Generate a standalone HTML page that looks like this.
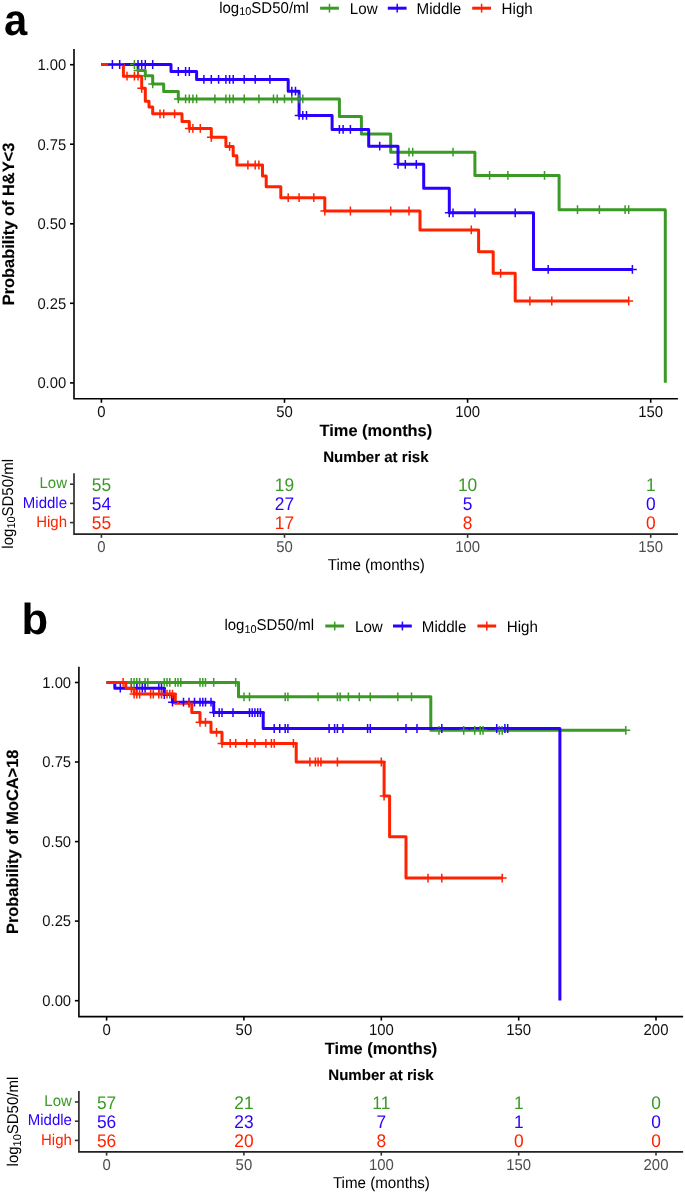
<!DOCTYPE html>
<html lang="en"><head><meta charset="utf-8"><title>Kaplan-Meier curves</title>
<style>html,body{margin:0;padding:0;background:#fff}svg{display:block}</style></head>
<body>
<svg width="685" height="1192" viewBox="0 0 685 1192" font-family="'Liberation Sans', Arial, Helvetica, sans-serif" text-rendering="geometricPrecision">
<rect width="685" height="1192" fill="#fff"/>
<g transform="translate(0,0.0)">
<text transform="translate(219.2,12.5) scale(1,1.04)" font-size="15.0" text-anchor="start" font-weight="normal" fill="#000">log<tspan font-size="10.9" dy="2.4">10</tspan><tspan dy="-2.4">SD50/ml</tspan></text>
<path d="M320.1,8.2h18.8" stroke="#3A9A25" stroke-width="3.0" fill="none"/>
<path d="M329.5,3.8v8.8" stroke="#3A9A25" stroke-width="1.5" fill="none"/>
<text transform="translate(349.8,13.7) scale(1,1.04)" font-size="15.15" text-anchor="start" font-weight="normal" fill="#000">Low</text>
<path d="M387.8,8.2h18.8" stroke="#2A00FF" stroke-width="3.0" fill="none"/>
<path d="M397.2,3.8v8.8" stroke="#2A00FF" stroke-width="1.5" fill="none"/>
<text transform="translate(416.6,13.7) scale(1,1.04)" font-size="15.15" text-anchor="start" font-weight="normal" fill="#000">Middle</text>
<path d="M472.2,8.2h18.8" stroke="#FF2200" stroke-width="3.0" fill="none"/>
<path d="M481.6,3.8v8.8" stroke="#FF2200" stroke-width="1.5" fill="none"/>
<text transform="translate(501.6,13.7) scale(1,1.04)" font-size="15.15" text-anchor="start" font-weight="normal" fill="#000">High</text>
<path d="M74.0,49.0V398.8H677.9" fill="none" stroke="#000000" stroke-width="1.6" stroke-linejoin="miter"/>
<path d="M70.0,64.7H74.0" stroke="#000000" stroke-width="1.6"/>
<text transform="translate(66.2,70.0) scale(1,1.05)" font-size="14.8" text-anchor="end" font-weight="normal" fill="#111">1.00</text>
<path d="M70.0,144.2H74.0" stroke="#000000" stroke-width="1.6"/>
<text transform="translate(66.2,149.6) scale(1,1.05)" font-size="14.8" text-anchor="end" font-weight="normal" fill="#111">0.75</text>
<path d="M70.0,223.8H74.0" stroke="#000000" stroke-width="1.6"/>
<text transform="translate(66.2,229.1) scale(1,1.05)" font-size="14.8" text-anchor="end" font-weight="normal" fill="#111">0.50</text>
<path d="M70.0,303.3H74.0" stroke="#000000" stroke-width="1.6"/>
<text transform="translate(66.2,308.6) scale(1,1.05)" font-size="14.8" text-anchor="end" font-weight="normal" fill="#111">0.25</text>
<path d="M70.0,382.9H74.0" stroke="#000000" stroke-width="1.6"/>
<text transform="translate(66.2,388.2) scale(1,1.05)" font-size="14.8" text-anchor="end" font-weight="normal" fill="#111">0.00</text>
<path d="M101.4,398.8V402.8" stroke="#000000" stroke-width="1.6"/>
<text transform="translate(101.4,417.1) scale(1,1.05)" font-size="14.9" text-anchor="middle" font-weight="normal" fill="#111">0</text>
<path d="M284.5,398.8V402.8" stroke="#000000" stroke-width="1.6"/>
<text transform="translate(284.5,417.1) scale(1,1.05)" font-size="14.9" text-anchor="middle" font-weight="normal" fill="#111">50</text>
<path d="M467.6,398.8V402.8" stroke="#000000" stroke-width="1.6"/>
<text transform="translate(467.6,417.1) scale(1,1.05)" font-size="14.9" text-anchor="middle" font-weight="normal" fill="#111">100</text>
<path d="M650.7,398.8V402.8" stroke="#000000" stroke-width="1.6"/>
<text transform="translate(650.7,417.1) scale(1,1.05)" font-size="14.9" text-anchor="middle" font-weight="normal" fill="#111">150</text>
<text x="375.9" y="436.2" font-size="16.4" text-anchor="middle" font-weight="bold" fill="#000" stroke="#000" stroke-width="0.1">Time (months)</text>
<text x="375.9" y="461.9" font-size="15.05" text-anchor="middle" font-weight="bold" fill="#000" stroke="#000" stroke-width="0.1">Number at risk</text>
<text transform="translate(13.5,224) rotate(-90)" font-size="16.4" font-weight="bold" text-anchor="middle" fill="#000" stroke="#000" stroke-width="0.15">Probability of H&amp;Y&lt;3</text>
<path d="M74.0,473.2V534.1H677.9" fill="none" stroke="#222" stroke-width="1.6" stroke-linejoin="miter"/>
<path d="M70.0,484.2H74.0" stroke="#333" stroke-width="1.6"/>
<text transform="translate(67.0,488.4) scale(1,1.04)" font-size="15.0" text-anchor="end" font-weight="normal" fill="#3A9A25">Low</text>
<text transform="translate(101.4,490.9) scale(1,1.06)" font-size="17.33" text-anchor="middle" font-weight="normal" fill="#3A9A25">55</text>
<text transform="translate(284.5,490.9) scale(1,1.06)" font-size="17.33" text-anchor="middle" font-weight="normal" fill="#3A9A25">19</text>
<text transform="translate(467.6,490.9) scale(1,1.06)" font-size="17.33" text-anchor="middle" font-weight="normal" fill="#3A9A25">10</text>
<text transform="translate(650.7,490.9) scale(1,1.06)" font-size="17.33" text-anchor="middle" font-weight="normal" fill="#3A9A25">1</text>
<path d="M70.0,503.4H74.0" stroke="#333" stroke-width="1.6"/>
<text transform="translate(67.0,507.6) scale(1,1.04)" font-size="15.0" text-anchor="end" font-weight="normal" fill="#2A00FF">Middle</text>
<text transform="translate(101.4,510.1) scale(1,1.06)" font-size="17.33" text-anchor="middle" font-weight="normal" fill="#2A00FF">54</text>
<text transform="translate(284.5,510.1) scale(1,1.06)" font-size="17.33" text-anchor="middle" font-weight="normal" fill="#2A00FF">27</text>
<text transform="translate(467.6,510.1) scale(1,1.06)" font-size="17.33" text-anchor="middle" font-weight="normal" fill="#2A00FF">5</text>
<text transform="translate(650.7,510.1) scale(1,1.06)" font-size="17.33" text-anchor="middle" font-weight="normal" fill="#2A00FF">0</text>
<path d="M70.0,522.6H74.0" stroke="#333" stroke-width="1.6"/>
<text transform="translate(67.0,526.8) scale(1,1.04)" font-size="15.0" text-anchor="end" font-weight="normal" fill="#FF2200">High</text>
<text transform="translate(101.4,529.3) scale(1,1.06)" font-size="17.33" text-anchor="middle" font-weight="normal" fill="#FF2200">55</text>
<text transform="translate(284.5,529.3) scale(1,1.06)" font-size="17.33" text-anchor="middle" font-weight="normal" fill="#FF2200">17</text>
<text transform="translate(467.6,529.3) scale(1,1.06)" font-size="17.33" text-anchor="middle" font-weight="normal" fill="#FF2200">8</text>
<text transform="translate(650.7,529.3) scale(1,1.06)" font-size="17.33" text-anchor="middle" font-weight="normal" fill="#FF2200">0</text>
<path d="M101.4,534.1V537.8" stroke="#333" stroke-width="1.6"/>
<text transform="translate(101.4,552.2) scale(1,1.05)" font-size="14.9" text-anchor="middle" font-weight="normal" fill="#4d4d4d">0</text>
<path d="M284.5,534.1V537.8" stroke="#333" stroke-width="1.6"/>
<text transform="translate(284.5,552.2) scale(1,1.05)" font-size="14.9" text-anchor="middle" font-weight="normal" fill="#4d4d4d">50</text>
<path d="M467.6,534.1V537.8" stroke="#333" stroke-width="1.6"/>
<text transform="translate(467.6,552.2) scale(1,1.05)" font-size="14.9" text-anchor="middle" font-weight="normal" fill="#4d4d4d">100</text>
<path d="M650.7,534.1V537.8" stroke="#333" stroke-width="1.6"/>
<text transform="translate(650.7,552.2) scale(1,1.05)" font-size="14.9" text-anchor="middle" font-weight="normal" fill="#4d4d4d">150</text>
<text transform="translate(376.3,569.9) scale(1,1.04)" font-size="15.15" text-anchor="middle" font-weight="normal" fill="#000">Time (months)</text>
<text transform="translate(12.8,503.8) rotate(-90) scale(1,1.04)" font-size="15.0" text-anchor="middle" fill="#000">log<tspan font-size="10.9" dy="2.4">10</tspan><tspan dy="-2.4">SD50/ml</tspan></text>
</g>
<text transform="translate(4.0,34.7) scale(0.95,1)" font-size="44" font-weight="bold" fill="#000">a</text>
<path d="M101.4,64.5H138.0V70.6H145.3V75.8H152.7V83.9H163.7V91.5H178.3V98.9H339.4V116.6H361.4V134.1H390.7V152.2H474.9V175.4H559.1V209.7H665.3V382.8" fill="none" stroke="#3A9A25" stroke-width="3.0" stroke-linejoin="round" stroke-linecap="butt"/>
<path d="M101.4,64.5H171.0V71.5H196.6V79.4H288.2V91.2H299.1V115.4H332.1V129.4H368.7V146.2H398.0V164.3H423.7V188.2H449.3V212.8H533.5V269.4H632.4" fill="none" stroke="#2A00FF" stroke-width="3.0" stroke-linejoin="round" stroke-linecap="butt"/>
<path d="M101.4,64.5H123.4V76.2H141.7V88.3H145.3V101.2H149.0V107.0H152.7V113.8H182.0V121.4H189.3V128.4H211.3V137.3H225.9V146.4H233.2V155.7H236.9V165.0H262.5V175.9H266.2V186.8H280.8V197.7H324.8V211.0H420.0V229.9H478.6V251.7H493.2V273.3H515.2V301.0H628.7" fill="none" stroke="#FF2200" stroke-width="3.0" stroke-linejoin="round" stroke-linecap="butt"/>
<path d="M130.0,64.5h8.8M134.4,60.1v8.8M133.6,70.6h8.8M138.0,66.2v8.8M140.9,75.8h8.8M145.3,71.4v8.8M148.3,83.9h8.8M152.7,79.5v8.8M173.9,98.9h8.8M178.3,94.5v8.8M181.2,98.9h8.8M185.6,94.5v8.8M184.9,98.9h8.8M189.3,94.5v8.8M188.5,98.9h8.8M192.9,94.5v8.8M192.2,98.9h8.8M196.6,94.5v8.8M210.5,98.9h8.8M214.9,94.5v8.8M221.5,98.9h8.8M225.9,94.5v8.8M225.2,98.9h8.8M229.6,94.5v8.8M228.8,98.9h8.8M233.2,94.5v8.8M239.8,98.9h8.8M244.2,94.5v8.8M254.5,98.9h8.8M258.9,94.5v8.8M269.1,98.9h8.8M273.5,94.5v8.8M272.8,98.9h8.8M277.2,94.5v8.8M280.1,98.9h8.8M284.5,94.5v8.8M287.4,98.9h8.8M291.8,94.5v8.8M294.7,98.9h8.8M299.1,94.5v8.8M298.4,98.9h8.8M302.8,94.5v8.8M404.6,152.2h8.8M409.0,147.8v8.8M408.3,152.2h8.8M412.7,147.8v8.8M448.6,152.2h8.8M453.0,147.8v8.8M485.2,175.4h8.8M489.6,171.0v8.8M503.5,175.4h8.8M507.9,171.0v8.8M540.1,175.4h8.8M544.5,171.0v8.8M573.1,209.7h8.8M577.5,205.3v8.8M595.0,209.7h8.8M599.4,205.3v8.8M620.7,209.7h8.8M625.1,205.3v8.8M624.3,209.7h8.8M628.7,205.3v8.8" fill="none" stroke="#3A9A25" stroke-width="1.5"/>
<path d="M108.0,64.5h8.8M112.4,60.1v8.8M115.3,64.5h8.8M119.7,60.1v8.8M133.6,64.5h8.8M138.0,60.1v8.8M137.3,64.5h8.8M141.7,60.1v8.8M140.9,64.5h8.8M145.3,60.1v8.8M148.3,64.5h8.8M152.7,60.1v8.8M173.9,71.5h8.8M178.3,67.1v8.8M181.2,71.5h8.8M185.6,67.1v8.8M184.9,71.5h8.8M189.3,67.1v8.8M199.5,79.4h8.8M203.9,75.0v8.8M206.9,79.4h8.8M211.3,75.0v8.8M214.2,79.4h8.8M218.6,75.0v8.8M221.5,79.4h8.8M225.9,75.0v8.8M225.2,79.4h8.8M229.6,75.0v8.8M228.8,79.4h8.8M233.2,75.0v8.8M239.8,79.4h8.8M244.2,75.0v8.8M250.8,79.4h8.8M255.2,75.0v8.8M265.5,79.4h8.8M269.9,75.0v8.8M287.4,91.2h8.8M291.8,86.8v8.8M291.1,91.2h8.8M295.5,86.8v8.8M294.7,115.4h8.8M299.1,111.0v8.8M298.4,115.4h8.8M302.8,111.0v8.8M302.1,115.4h8.8M306.5,111.0v8.8M335.0,129.4h8.8M339.4,125.0v8.8M338.7,129.4h8.8M343.1,125.0v8.8M346.0,129.4h8.8M350.4,125.0v8.8M375.3,146.2h8.8M379.7,141.8v8.8M393.6,164.3h8.8M398.0,159.9v8.8M400.9,164.3h8.8M405.3,159.9v8.8M411.9,164.3h8.8M416.3,159.9v8.8M444.9,212.8h8.8M449.3,208.4v8.8M448.6,212.8h8.8M453.0,208.4v8.8M470.5,212.8h8.8M474.9,208.4v8.8M510.8,212.8h8.8M515.2,208.4v8.8M543.8,269.4h8.8M548.2,265.0v8.8M628.0,269.4h8.8M632.4,265.0v8.8" fill="none" stroke="#2A00FF" stroke-width="1.5"/>
<path d="M122.6,76.2h8.8M127.0,71.8v8.8M130.0,76.2h8.8M134.4,71.8v8.8M133.6,76.2h8.8M138.0,71.8v8.8M137.3,88.3h8.8M141.7,83.9v8.8M155.6,113.8h8.8M160.0,109.4v8.8M159.3,113.8h8.8M163.7,109.4v8.8M170.2,113.8h8.8M174.6,109.4v8.8M184.9,128.4h8.8M189.3,124.0v8.8M188.5,128.4h8.8M192.9,124.0v8.8M195.9,128.4h8.8M200.3,124.0v8.8M206.9,137.3h8.8M211.3,132.9v8.8M225.2,146.4h8.8M229.6,142.0v8.8M243.5,165.0h8.8M247.9,160.6v8.8M250.8,165.0h8.8M255.2,160.6v8.8M254.5,165.0h8.8M258.9,160.6v8.8M283.8,197.7h8.8M288.2,193.3v8.8M294.7,197.7h8.8M299.1,193.3v8.8M309.4,197.7h8.8M313.8,193.3v8.8M320.4,211.0h8.8M324.8,206.6v8.8M346.0,211.0h8.8M350.4,206.6v8.8M386.3,211.0h8.8M390.7,206.6v8.8M404.6,211.0h8.8M409.0,206.6v8.8M466.9,229.9h8.8M471.3,225.5v8.8M496.2,273.3h8.8M500.6,268.9v8.8M525.5,301.0h8.8M529.9,296.6v8.8M547.4,301.0h8.8M551.8,296.6v8.8M624.3,301.0h8.8M628.7,296.6v8.8" fill="none" stroke="#FF2200" stroke-width="1.5"/>
<g transform="translate(0,617.8)">
<text transform="translate(224.4,12.5) scale(1,1.04)" font-size="15.0" text-anchor="start" font-weight="normal" fill="#000">log<tspan font-size="10.9" dy="2.4">10</tspan><tspan dy="-2.4">SD50/ml</tspan></text>
<path d="M325.3,8.2h18.8" stroke="#3A9A25" stroke-width="3.0" fill="none"/>
<path d="M334.7,3.8v8.8" stroke="#3A9A25" stroke-width="1.5" fill="none"/>
<text transform="translate(355.0,13.7) scale(1,1.04)" font-size="15.15" text-anchor="start" font-weight="normal" fill="#000">Low</text>
<path d="M393.0,8.2h18.8" stroke="#2A00FF" stroke-width="3.0" fill="none"/>
<path d="M402.4,3.8v8.8" stroke="#2A00FF" stroke-width="1.5" fill="none"/>
<text transform="translate(421.8,13.7) scale(1,1.04)" font-size="15.15" text-anchor="start" font-weight="normal" fill="#000">Middle</text>
<path d="M477.4,8.2h18.8" stroke="#FF2200" stroke-width="3.0" fill="none"/>
<path d="M486.8,3.8v8.8" stroke="#FF2200" stroke-width="1.5" fill="none"/>
<text transform="translate(506.8,13.7) scale(1,1.04)" font-size="15.15" text-anchor="start" font-weight="normal" fill="#000">High</text>
<path d="M78.9,49.0V398.8H683.1" fill="none" stroke="#000000" stroke-width="1.6" stroke-linejoin="miter"/>
<path d="M74.9,64.7H78.9" stroke="#000000" stroke-width="1.6"/>
<text transform="translate(71.1,70.0) scale(1,1.05)" font-size="14.8" text-anchor="end" font-weight="normal" fill="#111">1.00</text>
<path d="M74.9,144.2H78.9" stroke="#000000" stroke-width="1.6"/>
<text transform="translate(71.1,149.6) scale(1,1.05)" font-size="14.8" text-anchor="end" font-weight="normal" fill="#111">0.75</text>
<path d="M74.9,223.8H78.9" stroke="#000000" stroke-width="1.6"/>
<text transform="translate(71.1,229.1) scale(1,1.05)" font-size="14.8" text-anchor="end" font-weight="normal" fill="#111">0.50</text>
<path d="M74.9,303.3H78.9" stroke="#000000" stroke-width="1.6"/>
<text transform="translate(71.1,308.6) scale(1,1.05)" font-size="14.8" text-anchor="end" font-weight="normal" fill="#111">0.25</text>
<path d="M74.9,382.9H78.9" stroke="#000000" stroke-width="1.6"/>
<text transform="translate(71.1,388.2) scale(1,1.05)" font-size="14.8" text-anchor="end" font-weight="normal" fill="#111">0.00</text>
<path d="M106.6,398.8V402.8" stroke="#000000" stroke-width="1.6"/>
<text transform="translate(106.6,417.1) scale(1,1.05)" font-size="14.9" text-anchor="middle" font-weight="normal" fill="#111">0</text>
<path d="M243.9,398.8V402.8" stroke="#000000" stroke-width="1.6"/>
<text transform="translate(243.9,417.1) scale(1,1.05)" font-size="14.9" text-anchor="middle" font-weight="normal" fill="#111">50</text>
<path d="M381.3,398.8V402.8" stroke="#000000" stroke-width="1.6"/>
<text transform="translate(381.3,417.1) scale(1,1.05)" font-size="14.9" text-anchor="middle" font-weight="normal" fill="#111">100</text>
<path d="M518.7,398.8V402.8" stroke="#000000" stroke-width="1.6"/>
<text transform="translate(518.7,417.1) scale(1,1.05)" font-size="14.9" text-anchor="middle" font-weight="normal" fill="#111">150</text>
<path d="M656.0,398.8V402.8" stroke="#000000" stroke-width="1.6"/>
<text transform="translate(656.0,417.1) scale(1,1.05)" font-size="14.9" text-anchor="middle" font-weight="normal" fill="#111">200</text>
<text x="381.0" y="436.2" font-size="16.4" text-anchor="middle" font-weight="bold" fill="#000" stroke="#000" stroke-width="0.1">Time (months)</text>
<text x="381.0" y="461.9" font-size="15.05" text-anchor="middle" font-weight="bold" fill="#000" stroke="#000" stroke-width="0.1">Number at risk</text>
<text transform="translate(17.9,224) rotate(-90)" font-size="16.4" font-weight="bold" text-anchor="middle" fill="#000" stroke="#000" stroke-width="0.15">Probability of MoCA&gt;18</text>
<path d="M78.9,473.2V534.1H683.1" fill="none" stroke="#222" stroke-width="1.6" stroke-linejoin="miter"/>
<path d="M74.9,484.2H78.9" stroke="#333" stroke-width="1.6"/>
<text transform="translate(71.9,488.4) scale(1,1.04)" font-size="15.0" text-anchor="end" font-weight="normal" fill="#3A9A25">Low</text>
<text transform="translate(106.6,490.9) scale(1,1.06)" font-size="17.33" text-anchor="middle" font-weight="normal" fill="#3A9A25">57</text>
<text transform="translate(243.9,490.9) scale(1,1.06)" font-size="17.33" text-anchor="middle" font-weight="normal" fill="#3A9A25">21</text>
<text transform="translate(381.3,490.9) scale(1,1.06)" font-size="17.33" text-anchor="middle" font-weight="normal" fill="#3A9A25">11</text>
<text transform="translate(518.7,490.9) scale(1,1.06)" font-size="17.33" text-anchor="middle" font-weight="normal" fill="#3A9A25">1</text>
<text transform="translate(656.0,490.9) scale(1,1.06)" font-size="17.33" text-anchor="middle" font-weight="normal" fill="#3A9A25">0</text>
<path d="M74.9,503.4H78.9" stroke="#333" stroke-width="1.6"/>
<text transform="translate(71.9,507.6) scale(1,1.04)" font-size="15.0" text-anchor="end" font-weight="normal" fill="#2A00FF">Middle</text>
<text transform="translate(106.6,510.1) scale(1,1.06)" font-size="17.33" text-anchor="middle" font-weight="normal" fill="#2A00FF">56</text>
<text transform="translate(243.9,510.1) scale(1,1.06)" font-size="17.33" text-anchor="middle" font-weight="normal" fill="#2A00FF">23</text>
<text transform="translate(381.3,510.1) scale(1,1.06)" font-size="17.33" text-anchor="middle" font-weight="normal" fill="#2A00FF">7</text>
<text transform="translate(518.7,510.1) scale(1,1.06)" font-size="17.33" text-anchor="middle" font-weight="normal" fill="#2A00FF">1</text>
<text transform="translate(656.0,510.1) scale(1,1.06)" font-size="17.33" text-anchor="middle" font-weight="normal" fill="#2A00FF">0</text>
<path d="M74.9,522.6H78.9" stroke="#333" stroke-width="1.6"/>
<text transform="translate(71.9,526.8) scale(1,1.04)" font-size="15.0" text-anchor="end" font-weight="normal" fill="#FF2200">High</text>
<text transform="translate(106.6,529.3) scale(1,1.06)" font-size="17.33" text-anchor="middle" font-weight="normal" fill="#FF2200">56</text>
<text transform="translate(243.9,529.3) scale(1,1.06)" font-size="17.33" text-anchor="middle" font-weight="normal" fill="#FF2200">20</text>
<text transform="translate(381.3,529.3) scale(1,1.06)" font-size="17.33" text-anchor="middle" font-weight="normal" fill="#FF2200">8</text>
<text transform="translate(518.7,529.3) scale(1,1.06)" font-size="17.33" text-anchor="middle" font-weight="normal" fill="#FF2200">0</text>
<text transform="translate(656.0,529.3) scale(1,1.06)" font-size="17.33" text-anchor="middle" font-weight="normal" fill="#FF2200">0</text>
<path d="M106.6,534.1V537.8" stroke="#333" stroke-width="1.6"/>
<text transform="translate(106.6,552.2) scale(1,1.05)" font-size="14.9" text-anchor="middle" font-weight="normal" fill="#4d4d4d">0</text>
<path d="M243.9,534.1V537.8" stroke="#333" stroke-width="1.6"/>
<text transform="translate(243.9,552.2) scale(1,1.05)" font-size="14.9" text-anchor="middle" font-weight="normal" fill="#4d4d4d">50</text>
<path d="M381.3,534.1V537.8" stroke="#333" stroke-width="1.6"/>
<text transform="translate(381.3,552.2) scale(1,1.05)" font-size="14.9" text-anchor="middle" font-weight="normal" fill="#4d4d4d">100</text>
<path d="M518.7,534.1V537.8" stroke="#333" stroke-width="1.6"/>
<text transform="translate(518.7,552.2) scale(1,1.05)" font-size="14.9" text-anchor="middle" font-weight="normal" fill="#4d4d4d">150</text>
<path d="M656.0,534.1V537.8" stroke="#333" stroke-width="1.6"/>
<text transform="translate(656.0,552.2) scale(1,1.05)" font-size="14.9" text-anchor="middle" font-weight="normal" fill="#4d4d4d">200</text>
<text transform="translate(381.4,569.9) scale(1,1.04)" font-size="15.15" text-anchor="middle" font-weight="normal" fill="#000">Time (months)</text>
<text transform="translate(18.0,503.8) rotate(-90) scale(1,1.04)" font-size="15.0" text-anchor="middle" fill="#000">log<tspan font-size="10.9" dy="2.4">10</tspan><tspan dy="-2.4">SD50/ml</tspan></text>
</g>
<text transform="translate(21.6,633.5) scale(1.0,1)" font-size="43.6" font-weight="bold" fill="#000">b</text>
<path d="M106.6,682.4H238.5V696.8H430.8V730.3H625.8" fill="none" stroke="#3A9A25" stroke-width="3.0" stroke-linejoin="round" stroke-linecap="butt"/>
<path d="M106.6,682.4H114.8V688.2H164.3V694.5H172.5V702.2H213.7V712.6H263.2V728.5H559.9V1000.5" fill="none" stroke="#2A00FF" stroke-width="3.0" stroke-linejoin="round" stroke-linecap="butt"/>
<path d="M106.6,682.4H125.8V688.4H134.1V694.1H175.3V703.3H191.8V712.6H200.0V722.3H211.0V732.3H222.0V743.4H296.2V762.0H384.1V796.0H389.6V836.7H406.0V878.1H502.2" fill="none" stroke="#FF2200" stroke-width="3.0" stroke-linejoin="round" stroke-linecap="butt"/>
<path d="M126.9,682.4h8.8M131.3,678.0v8.8M129.7,682.4h8.8M134.1,678.0v8.8M132.4,682.4h8.8M136.8,678.0v8.8M135.2,682.4h8.8M139.6,678.0v8.8M140.7,682.4h8.8M145.1,678.0v8.8M143.4,682.4h8.8M147.8,678.0v8.8M159.9,682.4h8.8M164.3,678.0v8.8M162.6,682.4h8.8M167.0,678.0v8.8M165.4,682.4h8.8M169.8,678.0v8.8M170.9,682.4h8.8M175.3,678.0v8.8M173.6,682.4h8.8M178.0,678.0v8.8M176.4,682.4h8.8M180.8,678.0v8.8M195.6,682.4h8.8M200.0,678.0v8.8M198.4,682.4h8.8M202.8,678.0v8.8M201.1,682.4h8.8M205.5,678.0v8.8M209.3,682.4h8.8M213.7,678.0v8.8M231.3,682.4h8.8M235.7,678.0v8.8M239.6,696.8h8.8M244.0,692.4v8.8M245.1,696.8h8.8M249.5,692.4v8.8M280.8,696.8h8.8M285.2,692.4v8.8M283.5,696.8h8.8M287.9,692.4v8.8M313.7,696.8h8.8M318.1,692.4v8.8M333.0,696.8h8.8M337.4,692.4v8.8M335.7,696.8h8.8M340.1,692.4v8.8M344.0,696.8h8.8M348.4,692.4v8.8M354.9,696.8h8.8M359.3,692.4v8.8M365.9,696.8h8.8M370.3,692.4v8.8M393.4,696.8h8.8M397.8,692.4v8.8M407.1,696.8h8.8M411.5,692.4v8.8M434.6,730.3h8.8M439.0,725.9v8.8M459.3,730.3h8.8M463.7,725.9v8.8M470.3,730.3h8.8M474.7,725.9v8.8M475.8,730.3h8.8M480.2,725.9v8.8M478.6,730.3h8.8M483.0,725.9v8.8M495.0,730.3h8.8M499.4,725.9v8.8M497.8,730.3h8.8M502.2,725.9v8.8M621.4,730.3h8.8M625.8,725.9v8.8" fill="none" stroke="#3A9A25" stroke-width="1.5"/>
<path d="M115.9,688.2h8.8M120.3,683.8v8.8M132.4,688.2h8.8M136.8,683.8v8.8M137.9,688.2h8.8M142.3,683.8v8.8M140.7,688.2h8.8M145.1,683.8v8.8M154.4,688.2h8.8M158.8,683.8v8.8M157.1,688.2h8.8M161.5,683.8v8.8M159.9,694.6h8.8M164.3,690.2v8.8M168.1,702.2h8.8M172.5,697.8v8.8M179.1,702.2h8.8M183.5,697.8v8.8M184.6,702.2h8.8M189.0,697.8v8.8M190.1,702.2h8.8M194.5,697.8v8.8M195.6,702.2h8.8M200.0,697.8v8.8M198.4,702.2h8.8M202.8,697.8v8.8M201.1,702.2h8.8M205.5,697.8v8.8M206.6,702.2h8.8M211.0,697.8v8.8M209.3,712.6h8.8M213.7,708.2v8.8M214.8,712.6h8.8M219.2,708.2v8.8M217.6,712.6h8.8M222.0,708.2v8.8M228.6,712.6h8.8M233.0,708.2v8.8M245.1,712.6h8.8M249.5,708.2v8.8M247.8,712.6h8.8M252.2,708.2v8.8M250.5,712.6h8.8M254.9,708.2v8.8M253.3,712.6h8.8M257.7,708.2v8.8M256.0,712.6h8.8M260.4,708.2v8.8M269.8,728.5h8.8M274.2,724.1v8.8M275.3,728.5h8.8M279.7,724.1v8.8M280.8,728.5h8.8M285.2,724.1v8.8M283.5,728.5h8.8M287.9,724.1v8.8M324.7,728.5h8.8M329.1,724.1v8.8M330.2,728.5h8.8M334.6,724.1v8.8M333.0,728.5h8.8M337.4,724.1v8.8M338.5,728.5h8.8M342.9,724.1v8.8M363.2,728.5h8.8M367.6,724.1v8.8M365.9,728.5h8.8M370.3,724.1v8.8M401.6,728.5h8.8M406.0,724.1v8.8M412.6,728.5h8.8M417.0,724.1v8.8M437.4,728.5h8.8M441.8,724.1v8.8M492.3,728.5h8.8M496.7,724.1v8.8M500.5,728.5h8.8M504.9,724.1v8.8M503.3,728.5h8.8M507.7,724.1v8.8" fill="none" stroke="#2A00FF" stroke-width="1.5"/>
<path d="M118.7,682.4h8.8M123.1,678.0v8.8M126.9,688.4h8.8M131.3,684.0v8.8M129.7,694.1h8.8M134.1,689.7v8.8M132.4,694.1h8.8M136.8,689.7v8.8M135.2,694.1h8.8M139.6,689.7v8.8M146.2,694.1h8.8M150.6,689.7v8.8M148.9,694.1h8.8M153.3,689.7v8.8M154.4,694.1h8.8M158.8,689.7v8.8M157.1,694.1h8.8M161.5,689.7v8.8M162.6,694.1h8.8M167.0,689.7v8.8M165.4,694.1h8.8M169.8,689.7v8.8M168.1,694.1h8.8M172.5,689.7v8.8M184.6,703.3h8.8M189.0,698.9v8.8M195.6,722.3h8.8M200.0,717.9v8.8M201.1,722.3h8.8M205.5,717.9v8.8M212.1,732.3h8.8M216.5,727.9v8.8M217.6,743.4h8.8M222.0,739.0v8.8M225.8,743.4h8.8M230.2,739.0v8.8M231.3,743.4h8.8M235.7,739.0v8.8M242.3,743.4h8.8M246.7,739.0v8.8M250.5,743.4h8.8M254.9,739.0v8.8M261.5,743.4h8.8M265.9,739.0v8.8M267.0,743.4h8.8M271.4,739.0v8.8M269.8,743.4h8.8M274.2,739.0v8.8M289.0,743.4h8.8M293.4,739.0v8.8M305.5,762.0h8.8M309.9,757.6v8.8M311.0,762.0h8.8M315.4,757.6v8.8M313.7,762.0h8.8M318.1,757.6v8.8M316.5,762.0h8.8M320.9,757.6v8.8M333.0,762.0h8.8M337.4,757.6v8.8M376.9,762.0h8.8M381.3,757.6v8.8M379.7,796.0h8.8M384.1,791.6v8.8M423.6,878.1h8.8M428.0,873.7v8.8M437.4,878.1h8.8M441.8,873.7v8.8M497.8,878.1h8.8M502.2,873.7v8.8" fill="none" stroke="#FF2200" stroke-width="1.5"/>
</svg>
</body></html>
